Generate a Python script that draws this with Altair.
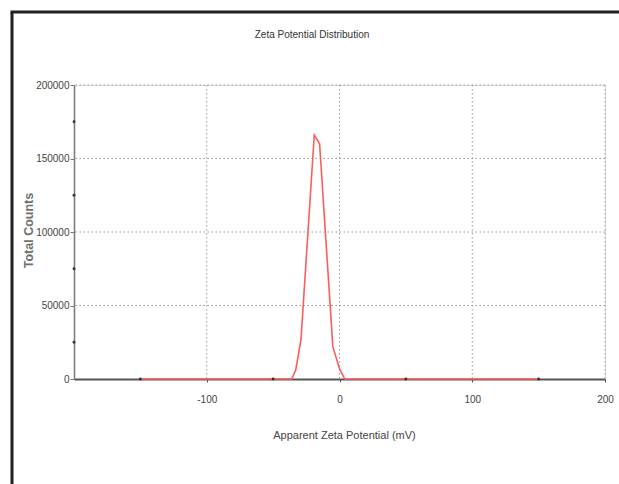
import altair as alt
import pandas as pd

# Distribution curve
zeta_mv = [-150, -36, -33, -29, -19, -15, -5, 0, 4, 150]
counts = [0, 0, 6000, 27000, 166000, 160000, 22000, 7000, 0, 0]

x_ticks = [-100, 0, 100, 200]
y_ticks = [0, 50000, 100000, 150000, 200000]
x_grid = [-100, 0, 100, 200]
y_grid = [50000, 100000, 150000, 200000]
x_minor = [-150, -50, 50, 150]
y_minor = [25000, 75000, 125000, 175000]
chart_title = ["Zeta Potential Distribution"]

FONT = "Liberation Sans"
LBL = "#444444"

xs = alt.Scale(domain=[-200, 200], nice=False)
ys = alt.Scale(domain=[0, 200000], nice=False)

curve_df = pd.DataFrame({"x": zeta_mv, "y": counts})

X_AXIS = alt.Axis(
    values=x_ticks, labelExpr="datum.value + ''", title="Apparent Zeta Potential (mV)",
    grid=False, domainColor="#555555", domainWidth=2, tickColor="#555555",
    tickSize=3, labelPadding=12, labelFlush=False, labelFont=FONT, labelFontSize=10, labelColor=LBL,
    titleFont=FONT, titleFontSize=11, titleFontWeight="normal", titleColor=LBL,
    titleX=270, titleY=56, titleBaseline="middle", titleAlign="center",
)
Y_AXIS = alt.Axis(
    values=y_ticks, labelExpr="datum.value + ''", title="Total Counts",
    grid=False, domainColor="#777777", domainWidth=1.5, tickColor="#777777",
    tickSize=4, labelPadding=1, labelFlush=False, labelFont=FONT, labelFontSize=10, labelColor=LBL,
    titleFont=FONT, titleFontSize=12.5, titleFontWeight="bold", titleColor="#707070",
    titleAngle=-90, titleX=-46, titleY=145, titleBaseline="middle", titleAlign="center",
)

def X(f="x"):
    return alt.X(f + ":Q", scale=xs, axis=X_AXIS)

def Y(f="y"):
    return alt.Y(f + ":Q", scale=ys, axis=Y_AXIS)

hgrid = alt.Chart(pd.DataFrame({"y": y_grid})).mark_rule(
    color="#9a9a9a", strokeDash=[1.5, 2.5], strokeWidth=1
).encode(y=Y())

vgrid = alt.Chart(pd.DataFrame({"x": x_grid})).mark_rule(
    color="#9a9a9a", strokeDash=[1.5, 2.5], strokeWidth=1
).encode(x=X())

line = alt.Chart(curve_df).mark_line(color="#ff5c5c", strokeWidth=1.6).encode(
    x=X(), y=Y(),
)

xminor = alt.Chart(pd.DataFrame({"x": x_minor, "y": [0] * len(x_minor)})).mark_point(
    filled=True, color="#333333", size=8, opacity=1
).encode(x=X(), y=Y())

yminor = alt.Chart(pd.DataFrame({"x": [-200] * len(y_minor), "y": y_minor})).mark_point(
    filled=True, color="#333333", size=8, opacity=1
).encode(x=X(), y=Y())

title_mark = alt.Chart(pd.DataFrame({"t": chart_title})).mark_text(
    font=FONT, fontSize=10, color="#333333", align="center", baseline="middle"
).encode(text="t:N", x=alt.value(238), y=alt.value(-50))

frame_left = alt.Chart(pd.DataFrame({"a": [0]})).mark_rule(color="#222222", strokeWidth=3).encode(
    x=alt.value(-62), y=alt.value(-73), y2=alt.value(399)
)
frame_top = alt.Chart(pd.DataFrame({"a": [0]})).mark_rule(color="#222222", strokeWidth=3).encode(
    x=alt.value(-63.5), x2=alt.value(545), y=alt.value(-73)
)

chart = alt.layer(hgrid, vgrid, line, xminor, yminor, title_mark, frame_left, frame_top).properties(
    width=531, height=294,
    autosize=alt.AutoSizeParams(type="none"),
    padding={"left": 74, "top": 85, "right": 14, "bottom": 105},
).configure_view(stroke=None).configure(background="white")

chart.save("out.html", embed_options={"renderer": "svg", "actions": False})
